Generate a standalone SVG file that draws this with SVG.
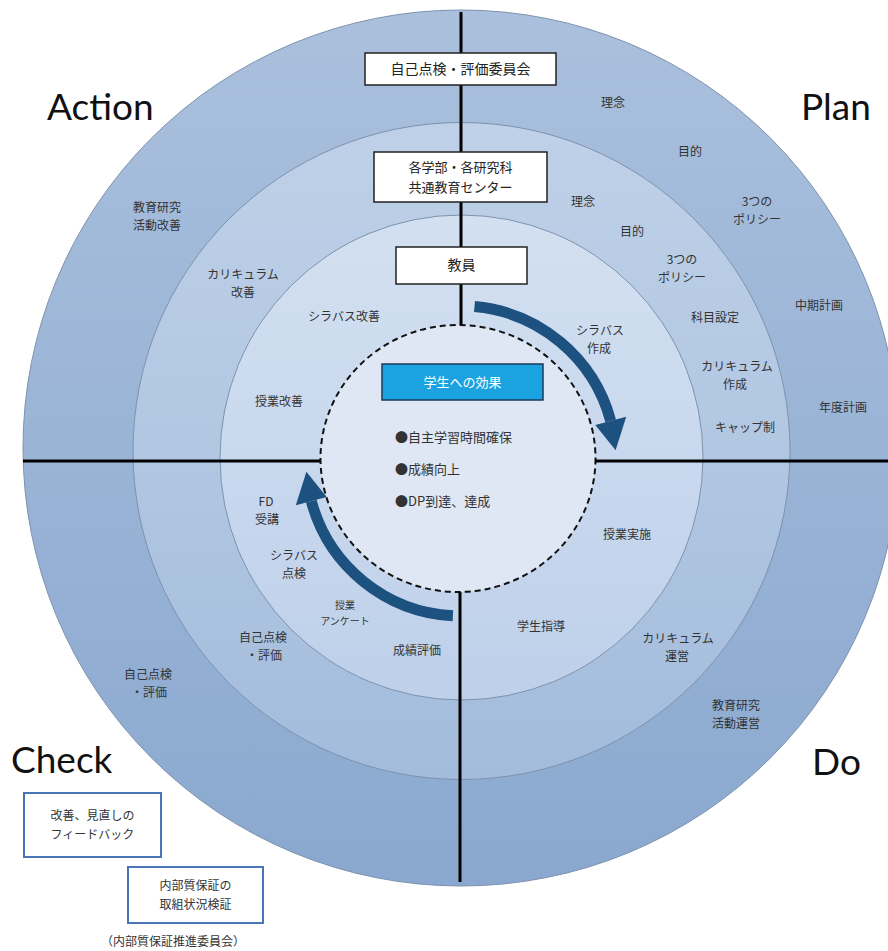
<svg xmlns="http://www.w3.org/2000/svg" width="888" height="951" viewBox="0 0 888 951">
<defs>
<linearGradient id="gOuter" x1="0" y1="0" x2="0" y2="1"><stop offset="0" stop-color="#aac0dd"/><stop offset="1" stop-color="#8aa8cf"/></linearGradient>
<linearGradient id="gMid" x1="0" y1="0" x2="0" y2="1"><stop offset="0" stop-color="#bfd1e8"/><stop offset="1" stop-color="#a3bcdc"/></linearGradient>
<linearGradient id="gIn" x1="0" y1="0" x2="0" y2="1"><stop offset="0" stop-color="#d3e0f1"/><stop offset="1" stop-color="#bed0ea"/></linearGradient>
<style>
.ring{stroke:#7d92ad;stroke-width:1}
.ax{stroke:#000;stroke-width:3;fill:none}
.t{font-family:"Noto Sans CJK JP","Noto Sans",sans-serif;font-size:12px;fill:#333;text-anchor:middle}
.s{font-size:10px}
.bx{fill:#fff;stroke:#222;stroke-width:1.5}
.bt{font-family:"Noto Sans CJK JP","Noto Sans",sans-serif;font-size:14px;fill:#222;text-anchor:middle}
.bb{fill:#fff;stroke:#4a74b4;stroke-width:2}
.big{font-family:Lato,"Open Sans",sans-serif;font-size:37px;fill:#111}
.arc{fill:none;stroke:#1d5180;stroke-width:11}
.head{fill:#1d5180}
</style>
</defs>
<rect width="888" height="951" fill="#fff"/>
<g id="rings">
<ellipse class="ring" cx="461" cy="448" rx="438" ry="438" fill="url(#gOuter)"/>
<ellipse class="ring" cx="461.5" cy="451" rx="328.5" ry="328.5" fill="url(#gMid)"/>
<ellipse class="ring" cx="461.5" cy="457.5" rx="241.5" ry="242.5" fill="url(#gIn)"/>
<ellipse cx="458" cy="458.5" rx="137.5" ry="133.5" fill="#dfe7f4" stroke="#111" stroke-width="2" stroke-dasharray="6 4"/>
</g>
<g id="connectors">
<line class="ax" x1="461" y1="12" x2="461" y2="325"/>
<line class="ax" x1="460" y1="592" x2="460" y2="882"/>
<line class="ax" x1="23" y1="461" x2="320" y2="461"/>
<line class="ax" x1="595" y1="461" x2="888" y2="461"/>
<path class="arc" d="M474.5 306.6 A155 155 0 0 1 610.7 420.9"/>
<polygon class="head" points="595.3,425 626.2,416.7 615.6,450.2"/>
<path class="arc" d="M452.9 615.8 A155 155 0 0 1 311.3 501.1"/>
<polygon class="head" points="326.7,497 295.8,505.3 306.4,471.8"/>
</g>
<g id="box-committee"><rect class="bx" x="365" y="53" width="191" height="32"/><text class="bt" x="460.5" y="74">自己点検・評価委員会</text></g>
<g id="box-faculty"><rect class="bx" x="374" y="152" width="173" height="50"/><text class="bt" x="460.5" y="172" style="font-size:13px">各学部・各研究科</text><text class="bt" x="460.5" y="192" style="font-size:13px">共通教育センター</text></g>
<g id="box-teacher"><rect class="bx" x="396" y="247" width="131" height="37"/><text class="bt" x="461.5" y="270">教員</text></g>
<g id="box-effect"><rect x="382" y="364" width="161" height="36" fill="#1aa3e0" stroke="#1e3a5a" stroke-width="1.5"/><text class="bt" x="462.5" y="387" style="fill:#fff;font-size:13px">学生への効果</text></g>
<g id="effects">
<text class="t" x="395" y="442" style="text-anchor:start;font-size:13px">●自主学習時間確保</text>
<text class="t" x="395" y="474" style="text-anchor:start;font-size:13px">●成績向上</text>
<text class="t" x="395" y="506" style="text-anchor:start;font-size:13px">●DP到達、達成</text>
</g>
<g id="plan-labels">
<text class="t" x="613" y="107">理念</text>
<text class="t" x="690" y="156">目的</text>
<text class="t" x="757" y="206">3つの</text>
<text class="t" x="757" y="224">ポリシー</text>
<text class="t" x="819" y="310">中期計画</text>
<text class="t" x="843" y="412">年度計画</text>
<text class="t" x="583" y="206">理念</text>
<text class="t" x="632" y="236">目的</text>
<text class="t" x="682" y="264">3つの</text>
<text class="t" x="682" y="282">ポリシー</text>
<text class="t" x="715" y="322">科目設定</text>
<text class="t" x="737" y="371">カリキュラム</text>
<text class="t" x="735" y="389">作成</text>
<text class="t" x="745" y="432">キャップ制</text>
<text class="t" x="600" y="335">シラバス</text>
<text class="t" x="599" y="353">作成</text>
</g>
<g id="action-labels">
<text class="t" x="157" y="212">教育研究</text>
<text class="t" x="157" y="230">活動改善</text>
<text class="t" x="243" y="279">カリキュラム</text>
<text class="t" x="243" y="297">改善</text>
<text class="t" x="344" y="321">シラバス改善</text>
<text class="t" x="279" y="406">授業改善</text>
</g>
<g id="check-labels">
<text class="t" x="266" y="506">FD</text>
<text class="t" x="267" y="524">受講</text>
<text class="t" x="294" y="560">シラバス</text>
<text class="t" x="294" y="578">点検</text>
<text class="t s" x="345" y="609">授業</text>
<text class="t s" x="345" y="625">アンケート</text>
<text class="t" x="417" y="655">成績評価</text>
<text class="t" x="263" y="642">自己点検</text>
<text class="t" x="264" y="660">・評価</text>
<text class="t" x="148" y="679">自己点検</text>
<text class="t" x="149" y="697">・評価</text>
</g>
<g id="do-labels">
<text class="t" x="627" y="539">授業実施</text>
<text class="t" x="541" y="631">学生指導</text>
<text class="t" x="678" y="643">カリキュラム</text>
<text class="t" x="677" y="661">運営</text>
<text class="t" x="736" y="710">教育研究</text>
<text class="t" x="736" y="728">活動運営</text>
</g>
<g id="phase-labels">
<text class="big" x="47" y="120">Action</text>
<text class="big" x="801" y="120">Plan</text>
<text class="big" x="11" y="773">Check</text>
<text class="big" x="812" y="775">Do</text>
</g>
<g id="box-feedback"><rect class="bb" x="24" y="793" width="137" height="64"/><text class="t" x="92.5" y="820">改善、見直しの</text><text class="t" x="92.5" y="839">フィードバック</text></g>
<g id="box-verify"><rect class="bb" x="128" y="867" width="135" height="56"/><text class="t" x="195.5" y="890">内部質保証の</text><text class="t" x="195.5" y="909">取組状況検証</text></g>
<text class="t" x="173" y="946">（内部質保証推進委員会）</text>
</svg>
